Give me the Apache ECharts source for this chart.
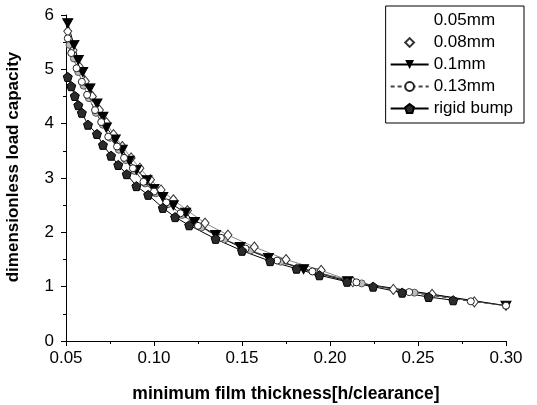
<!DOCTYPE html>
<html>
<head>
<meta charset="utf-8">
<script src="https://cdn.jsdelivr.net/npm/echarts@6/dist/echarts.min.js"></script>
<style>
  html, body { margin: 0; padding: 0; background: #fff; }
  #chart { width: 537px; height: 405px; }
</style>
</head>
<body>
<div id="chart"></div>
<script>
// film thickness (x) / load capacity (y)
var x005 = [0.052, 0.0545, 0.057, 0.060, 0.063, 0.067, 0.071, 0.075, 0.080, 0.084, 0.089, 0.095, 0.101, 0.108, 0.116, 0.127, 0.140, 0.155, 0.172, 0.192, 0.218, 0.248, 0.30];
var y005 = [5.45, 5.2, 4.95, 4.7, 4.47, 4.2, 3.98, 3.74, 3.52, 3.33, 3.13, 2.9, 2.72, 2.52, 2.32, 2.09, 1.87, 1.67, 1.46, 1.27, 1.06, 0.89, 0.65];
var x008 = [0.051, 0.054, 0.0575, 0.061, 0.065, 0.069, 0.073, 0.077, 0.082, 0.087, 0.092, 0.098, 0.104, 0.111, 0.119, 0.129, 0.142, 0.157, 0.175, 0.195, 0.213, 0.236, 0.258, 0.282];
var y008 = [5.7, 5.35, 5.05, 4.78, 4.5, 4.25, 4.02, 3.8, 3.58, 3.37, 3.18, 2.97, 2.78, 2.6, 2.4, 2.17, 1.95, 1.73, 1.5, 1.3, 1.09, 0.95, 0.86, 0.72];
var x01 = [0.051, 0.0545, 0.057, 0.0595, 0.0636, 0.0676, 0.071, 0.073, 0.078, 0.082, 0.086, 0.090, 0.096, 0.100, 0.105, 0.111, 0.118, 0.123, 0.135, 0.149, 0.165, 0.185, 0.21, 0.30];
var y01 = [5.85, 5.45, 5.17, 4.95, 4.65, 4.37, 4.13, 3.93, 3.71, 3.52, 3.32, 3.15, 2.96, 2.8, 2.65, 2.5, 2.36, 2.19, 1.95, 1.73, 1.53, 1.32, 1.1, 0.65];
var x013 = [0.051, 0.053, 0.056, 0.059, 0.062, 0.0665, 0.070, 0.074, 0.079, 0.083, 0.088, 0.094, 0.100, 0.107, 0.115, 0.125, 0.138, 0.152, 0.170, 0.190, 0.215, 0.245, 0.28, 0.30];
var y013 = [5.57, 5.3, 5.02, 4.77, 4.53, 4.25, 4.03, 3.76, 3.58, 3.37, 3.18, 2.93, 2.75, 2.55, 2.35, 2.12, 1.9, 1.7, 1.48, 1.28, 1.08, 0.9, 0.73, 0.65];
var xRigid = [0.051, 0.053, 0.055, 0.057, 0.059, 0.0625, 0.0676, 0.071, 0.0756, 0.0797, 0.0845, 0.090, 0.0967, 0.105, 0.112, 0.120, 0.135, 0.150, 0.166, 0.181, 0.194, 0.2097, 0.2245, 0.241, 0.256, 0.270];
var yRigid = [4.86, 4.69, 4.51, 4.34, 4.2, 3.98, 3.81, 3.61, 3.41, 3.24, 3.07, 2.85, 2.69, 2.45, 2.28, 2.13, 1.88, 1.66, 1.47, 1.33, 1.21, 1.09, 1.0, 0.89, 0.81, 0.75];

var xTicks = ['0.05', '0.10', '0.15', '0.20', '0.25', '0.30'];

function pairs(xs, ys) {
    return xs.map(function (v, i) { return [v, ys[i]]; });
}

var pentagon = 'path://M5,0 L10,3.6 L8.1,9.5 L1.9,9.5 L0,3.6 Z';
var font = 'Liberation Sans';

var chart = echarts.init(document.getElementById('chart'));
var option = {
    animation: false,
    textStyle: { fontFamily: font, color: '#000' },
    grid: { left: 66, right: 31, top: 15, bottom: 64, outerBoundsMode: 'none' },
    legend: {
        orient: 'vertical',
        right: 13,
        top: 6,
        padding: [6, 11, 6, 4],
        itemGap: 5,
        itemWidth: 38,
        itemHeight: 11,
        borderColor: '#000',
        borderWidth: 1,
        backgroundColor: '#fff',
        textStyle: { fontFamily: font, fontSize: 17, color: '#000' },
        data: [
            { name: '0.05mm', itemStyle: { opacity: 0 }, lineStyle: { opacity: 0 } },
            { name: '0.08mm', lineStyle: { opacity: 0 } },
            { name: '0.1mm' },
            { name: '0.13mm' },
            { name: 'rigid bump' }
        ]
    },
    xAxis: {
        type: 'value',
        min: 0.05,
        max: 0.30,
        interval: 0.05,
        name: 'minimum film thickness[h/clearance]',
        nameLocation: 'middle',
        nameGap: 44,
        nameTextStyle: { fontFamily: font, fontSize: 17.5, fontWeight: 'bold', color: '#000' },
        axisLine: { lineStyle: { color: '#000', width: 1 } },
        axisTick: { length: 5, lineStyle: { color: '#000' } },
        minorTick: { show: true, splitNumber: 2, length: 3, lineStyle: { color: '#000' } },
        splitLine: { show: false },
        axisLabel: {
            fontSize: 17, color: '#000', margin: 9,
            formatter: function (v) { return xTicks[Math.round((v - 0.05) / 0.05)]; }
        }
    },
    yAxis: {
        type: 'value',
        min: 0,
        max: 6,
        interval: 1,
        name: 'dimensionless load capacity',
        nameLocation: 'middle',
        nameGap: 44,
        nameTextStyle: { fontFamily: font, fontSize: 17, fontWeight: 'bold', color: '#000', padding: [0, 0, 0, 22] },
        axisLine: { show: true, lineStyle: { color: '#000', width: 1 } },
        axisTick: { show: true, length: 5, lineStyle: { color: '#000' } },
        minorTick: { show: true, splitNumber: 2, length: 3, lineStyle: { color: '#000' } },
        splitLine: { show: false },
        axisLabel: { fontSize: 17, color: '#000', margin: 12 }
    },
    series: [
        {
            name: '0.05mm', type: 'line', data: pairs(x005, y005),
            symbol: 'circle', symbolSize: 7,
            itemStyle: { color: '#bdbdbd', borderColor: '#555', borderWidth: 1 },
            lineStyle: { color: '#777', width: 1 }
        },
        {
            name: '0.08mm', type: 'line', data: pairs(x008, y008),
            symbol: 'diamond', symbolSize: [8, 10],
            itemStyle: { color: '#fff', borderColor: '#333', borderWidth: 1 },
            lineStyle: { color: '#888', width: 1 }
        },
        {
            name: '0.1mm', type: 'line', data: pairs(x01, y01),
            symbol: 'triangle', symbolRotate: 180, symbolSize: [10, 9],
            itemStyle: { color: '#000', borderColor: '#000' },
            lineStyle: { color: '#000', width: 1 }
        },
        {
            name: '0.13mm', type: 'line', data: pairs(x013, y013),
            symbol: 'circle', symbolSize: 7,
            itemStyle: { color: '#fff', borderColor: '#222', borderWidth: 1 },
            lineStyle: { color: '#444', width: 1, type: [4, 3] }
        },
        {
            name: 'rigid bump', type: 'line', data: pairs(xRigid, yRigid),
            symbol: pentagon, symbolSize: 9,
            itemStyle: { color: '#2b2b2b', borderColor: '#000', borderWidth: 1 },
            lineStyle: { color: '#000', width: 1 }
        }
    ]
};
chart.setOption(option);
</script>
</body>
</html>
